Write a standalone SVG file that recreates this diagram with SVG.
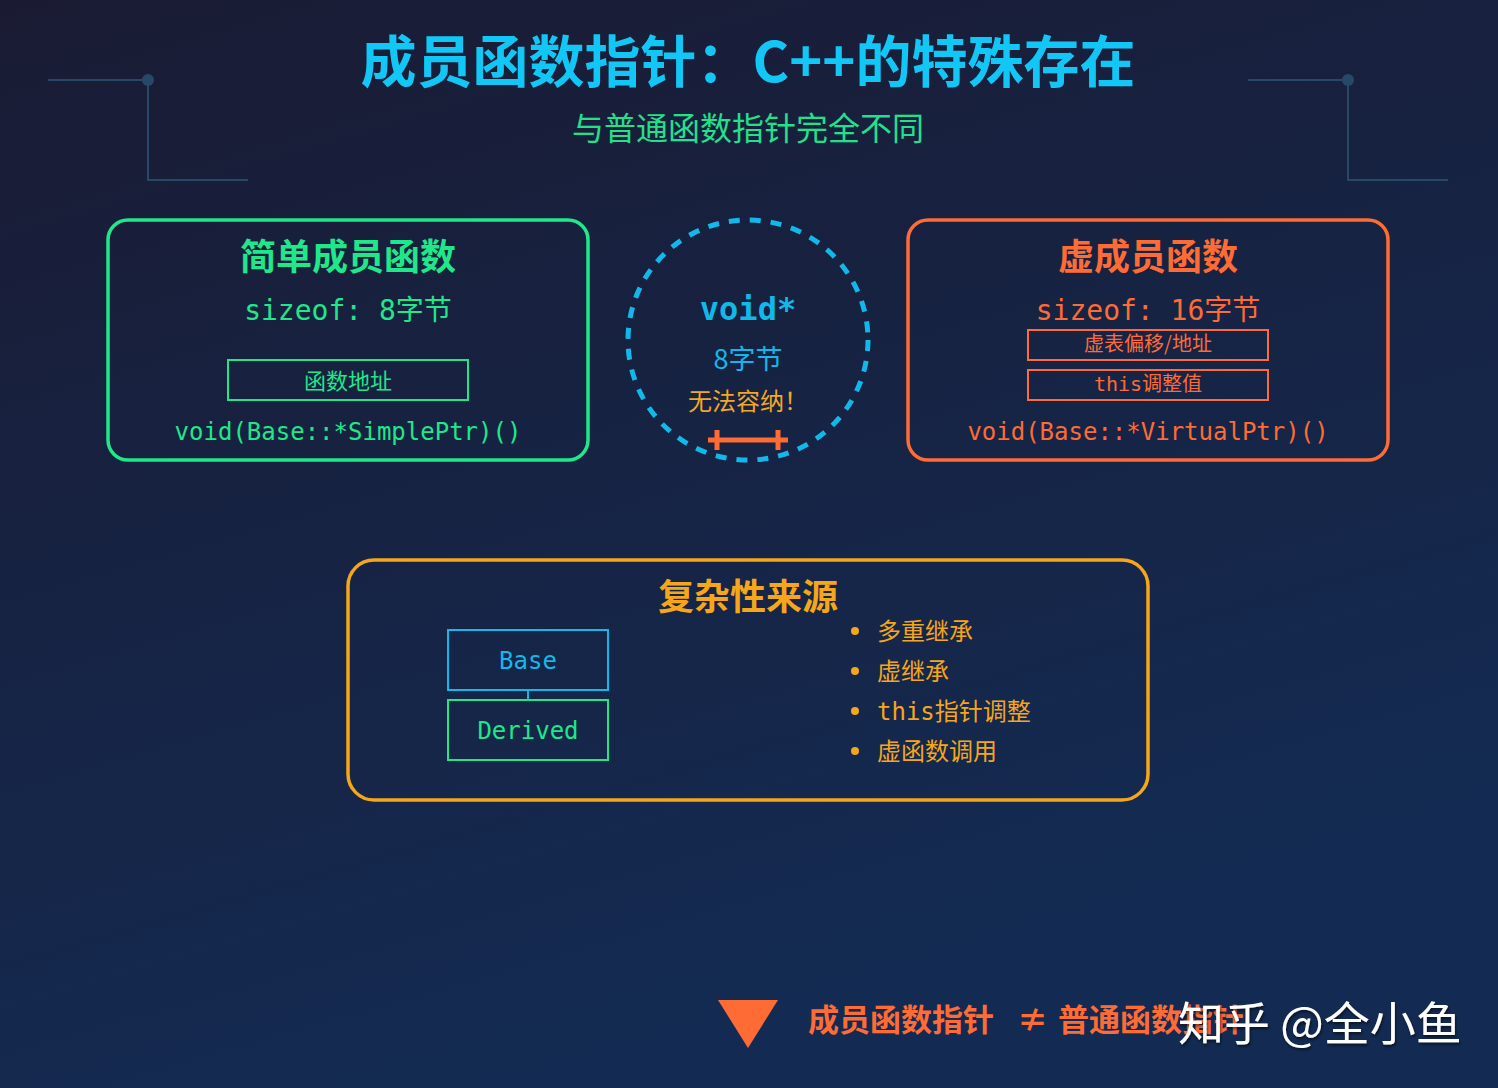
<svg xmlns="http://www.w3.org/2000/svg" width="1498" height="1088" viewBox="0 0 1498 1088">
<defs>
<linearGradient id="bg" x1="0" y1="0" x2="0.4" y2="1">
<stop offset="0" stop-color="#1a1b33"/>
<stop offset="1" stop-color="#132b53"/>
</linearGradient>
<filter id="sh" x="-10%" y="-30%" width="120%" height="160%">
<feDropShadow dx="1" dy="2" stdDeviation="1.5" flood-color="#000" flood-opacity="0.6"/>
</filter>
</defs>
<style>
.cjk{font-family:"Noto Sans CJK SC","Noto Sans",sans-serif}
.mono{font-family:"DejaVu Sans Mono","Noto Sans CJK SC",monospace}
.b{font-weight:bold}
.deco{stroke:#284868;stroke-width:2;fill:none}
.mid{text-anchor:middle}
</style>
<rect width="1498" height="1088" fill="url(#bg)"/>
<g id="decor">
<path class="deco" d="M48 80H148V180H248"/>
<circle cx="148" cy="80" r="6" fill="#284868"/>
<path class="deco" d="M1248 80H1348V180H1448"/>
<circle cx="1348" cy="80" r="6" fill="#284868"/>
</g>
<g id="title">
<text x="748" y="82" class="cjk b mid" font-size="56" fill="#12c6f5">成员函数指针：C++的特殊存在</text>
<text x="748" y="140" class="cjk mid" font-size="32" fill="#22e08c">与普通函数指针完全不同</text>
</g>
<g id="simple">
<rect x="108" y="220" width="480" height="240" rx="20" fill="none" stroke="#1ee88a" stroke-width="3.5"/>
<text x="348" y="270" class="cjk b mid" font-size="36" fill="#1ee88a">简单成员函数</text>
<text x="348" y="320" class="mono mid" font-size="28" fill="#1ee88a">sizeof: 8字节</text>
<rect x="228" y="360" width="240" height="40" fill="none" stroke="#1ee88a" stroke-width="2"/>
<text x="348" y="389" class="cjk mid" font-size="22" fill="#1ee88a">函数地址</text>
<text x="348" y="440" class="mono mid" font-size="24" fill="#1ee88a">void(Base::*SimplePtr)()</text>
</g>
<g id="voidptr">
<circle cx="748" cy="340" r="120" fill="none" stroke="#12b8ea" stroke-width="5" stroke-dasharray="11 10"/>
<text x="748" y="320" class="mono b mid" font-size="32" fill="#12b8ea">void*</text>
<text x="748" y="369" class="cjk mid" font-size="27" fill="#12b8ea">8字节</text>
<text x="748" y="410" class="cjk mid" font-size="24" fill="#f5a623">无法容纳！</text>
<g stroke="#ff6b35" stroke-width="5">
<line x1="708" y1="440" x2="788" y2="440"/>
<line x1="717" y1="430" x2="717" y2="450"/>
<line x1="778" y1="430" x2="778" y2="450"/>
</g>
</g>
<g id="virtual">
<rect x="908" y="220" width="480" height="240" rx="20" fill="none" stroke="#ff6b35" stroke-width="3.5"/>
<text x="1148" y="270" class="cjk b mid" font-size="36" fill="#ff6b35">虚成员函数</text>
<text x="1148" y="320" class="mono mid" font-size="28" fill="#ff6b35">sizeof: 16字节</text>
<rect x="1028" y="330" width="240" height="30" fill="none" stroke="#ff6b35" stroke-width="2"/>
<text x="1148" y="351" class="cjk mid" font-size="20" fill="#ff6b35">虚表偏移/地址</text>
<rect x="1028" y="370" width="240" height="30" fill="none" stroke="#ff6b35" stroke-width="2"/>
<text x="1148" y="391" class="mono mid" font-size="20" fill="#ff6b35">this调整值</text>
<text x="1148" y="440" class="mono mid" font-size="24" fill="#ff6b35">void(Base::*VirtualPtr)()</text>
</g>
<g id="complexity">
<rect x="348" y="560" width="800" height="240" rx="26" fill="none" stroke="#f5a61a" stroke-width="3.5"/>
<text x="748" y="610" class="cjk b mid" font-size="36" fill="#f5a61a">复杂性来源</text>
</g>
<g id="base">
<rect x="448" y="630" width="160" height="60" fill="none" stroke="#12b8ea" stroke-width="2"/>
<text x="528" y="669" class="mono mid" font-size="24" fill="#12b8ea">Base</text>
</g>
<g id="derived">
<rect x="448" y="700" width="160" height="60" fill="none" stroke="#1ee88a" stroke-width="2"/>
<text x="528" y="739" class="mono mid" font-size="24" fill="#1ee88a">Derived</text>
</g>
<g id="connectors">
<line x1="528" y1="690" x2="528" y2="700" stroke="#12b8ea" stroke-width="2"/>
</g>
<g id="bullets" fill="#f5a61a">
<circle cx="855" cy="631" r="4"/>
<circle cx="855" cy="671" r="4"/>
<circle cx="855" cy="711" r="4"/>
<circle cx="855" cy="751" r="4"/>
<text x="877" y="640" class="mono" font-size="24">多重继承</text>
<text x="877" y="680" class="mono" font-size="24">虚继承</text>
<text x="877" y="720" class="mono" font-size="24">this指针调整</text>
<text x="877" y="760" class="mono" font-size="24">虚函数调用</text>
</g>
<g id="conclusion">
<polygon points="718,1000 778,1000 748,1048" fill="#ff6b35"/>
<text y="1031" class="cjk b" font-size="31" fill="#ff6b35"><tspan x="808">成员函数指针</tspan><tspan x="1017">≠</tspan><tspan x="1058">普通函数指针</tspan></text>
</g>
<g id="watermark">
<text x="1178" y="1040" class="cjk" font-size="46" fill="#ffffff" filter="url(#sh)">知乎 @全小鱼</text>
</g>
</svg>
